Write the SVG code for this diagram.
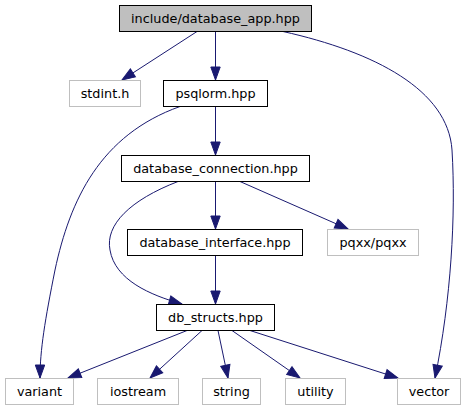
<svg xmlns="http://www.w3.org/2000/svg" width="465" height="411" viewBox="0 0 465 411">
<style>
.n rect{fill:#fff;stroke:#000;stroke-width:1}
.n.ext rect{stroke:#bfbfbf}
.n.root rect{fill:#bfbfbf}
.n text{font-family:"DejaVu Sans",sans-serif;font-size:12.8px;text-anchor:middle;fill:#000}
#edges path{fill:none;stroke:#191970;stroke-width:1;marker-end:url(#ah)}
</style>
<defs>
<marker id="ah" markerUnits="userSpaceOnUse" markerWidth="16" markerHeight="12" viewBox="-1 -6 16 12" refX="13" refY="0" orient="auto">
<path d="M0,-4.7 L13,0 L0,4.7 Z" fill="#191970" stroke="#191970" stroke-width="1"/>
</marker>
</defs>
<rect width="465" height="411" fill="#fff"/>
<g id="edges">
<path d="M197,31.5 L122,80"/>
<path d="M215.5,31.5 L215.5,80"/>
<path d="M283,31.5 C375,52 448,90 452,150 C456,215 451,300 435,378"/>
<path d="M180,106.5 C100,135 70,200 55,270 C45,320 40,350 40,378"/>
<path d="M215.5,106.5 L215.5,155"/>
<path d="M215.5,181.5 L215.5,229"/>
<path d="M240,181.5 L348,229"/>
<path d="M178,181.5 C130,200 105,225 110,250 C115,280 150,295 182,304"/>
<path d="M215.5,255.5 L215.5,304"/>
<path d="M187,330.5 L68,378"/>
<path d="M202,330.5 L150,378"/>
<path d="M218,330.5 L228,378"/>
<path d="M232,330.5 L300,378"/>
<path d="M250,330.5 L398,378"/>
</g>
<g id="n_app" class="n root"><rect x="119.5" y="5.5" width="192" height="26"/><text x="215.5" y="23">include/database_app.hpp</text></g>
<g id="n_stdint" class="n ext"><rect x="69.5" y="80.5" width="71" height="26"/><text x="105" y="98">stdint.h</text></g>
<g id="n_psqlorm" class="n"><rect x="163.5" y="80.5" width="104" height="26"/><text x="215.5" y="98">psqlorm.hpp</text></g>
<g id="n_dbconn" class="n"><rect x="121.5" y="155.5" width="188" height="26"/><text x="215.5" y="173">database_connection.hpp</text></g>
<g id="n_dbiface" class="n"><rect x="127.5" y="229.5" width="175" height="26"/><text x="215" y="247">database_interface.hpp</text></g>
<g id="n_pqxx" class="n ext"><rect x="327.5" y="229.5" width="91" height="26"/><text x="373" y="247">pqxx/pqxx</text></g>
<g id="n_dbstructs" class="n"><rect x="156.5" y="304.5" width="118" height="26"/><text x="215.5" y="322">db_structs.hpp</text></g>
<g id="n_variant" class="n ext"><rect x="5.5" y="378.5" width="68" height="26"/><text x="39.5" y="396">variant</text></g>
<g id="n_iostream" class="n ext"><rect x="97.5" y="378.5" width="81" height="26"/><text x="138" y="396">iostream</text></g>
<g id="n_string" class="n ext"><rect x="202.5" y="378.5" width="58" height="26"/><text x="231.5" y="396">string</text></g>
<g id="n_utility" class="n ext"><rect x="285.5" y="378.5" width="60" height="26"/><text x="315.5" y="396">utility</text></g>
<g id="n_vector" class="n ext"><rect x="397.5" y="378.5" width="63" height="26"/><text x="429" y="396">vector</text></g>
</svg>
